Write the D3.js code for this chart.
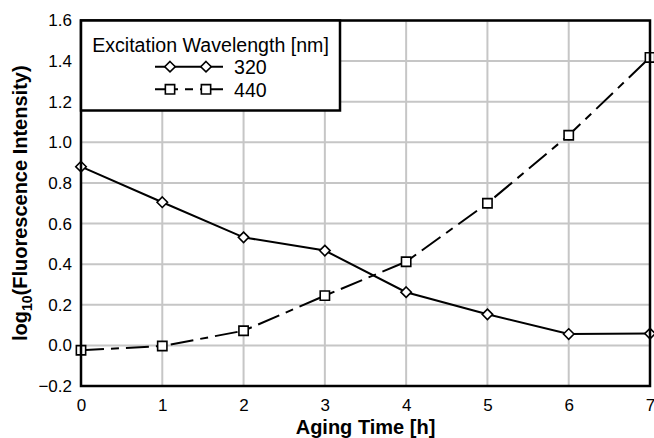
<!DOCTYPE html>
<html lang="en">
<head>
<meta charset="UTF-8">
<title>Fluorescence vs aging time</title>
<script src="https://d3js.org/d3.v7.min.js"></script>
<style>
  body { margin: 0; background: #fff; }
  svg text { font-family: "Liberation Sans", Arial, sans-serif; fill: #000; }
</style>
</head>
<body>
<svg id="chart" width="654" height="438"></svg>
<script>
// data
const hours = [0, 1, 2, 3, 4, 5, 6, 7];
const ex320 = [0.88, 0.705, 0.532, 0.467, 0.262, 0.153, 0.056, 0.058];
const ex440 = [-0.024, -0.003, 0.072, 0.245, 0.412, 0.70, 1.035, 1.418];
const yTicks = [-0.2, 0.0, 0.2, 0.4, 0.6, 0.8, 1.0, 1.2, 1.4, 1.6];
const seriesNames = ["320", "440"];

const svg = d3.select("#chart");
// plot box (window.top is taken, so use other names)
const pLeft = 81, pRight = 650, pTop = 20.5, pBottom = 386;

const x = d3.scaleLinear().domain([0, 7]).range([pLeft, pRight]);
const y = d3.scaleLinear().domain([-0.2, 1.6]).range([pBottom, pTop]);

// grid
const grid = svg.append("g");
grid.selectAll("line.v").data(hours).enter().append("line")
    .attr("x1", d => x(d)).attr("x2", d => x(d))
    .attr("y1", pTop).attr("y2", pBottom)
    .attr("stroke", "#c6c6c6").attr("stroke-width", 2);
grid.selectAll("line.h").data(yTicks).enter().append("line")
    .attr("x1", pLeft).attr("x2", pRight)
    .attr("y1", d => y(d)).attr("y2", d => y(d))
    .attr("stroke", "#c6c6c6").attr("stroke-width", 2);

// axes (tick labels only, the frame is drawn below)
const xAxis = svg.append("g").attr("transform", `translate(0,${pBottom})`)
    .call(d3.axisBottom(x).tickValues(hours).tickFormat(d3.format("d")).tickSize(0).tickPadding(13));
xAxis.select(".domain").remove();
xAxis.selectAll("text").style("font-size", "17px");

const yAxis = svg.append("g").attr("transform", `translate(${pLeft},0)`)
    .call(d3.axisLeft(y).tickValues(yTicks).tickFormat(d3.format(".1f")).tickSize(0).tickPadding(9));
yAxis.select(".domain").remove();
yAxis.selectAll("text").style("font-size", "17px");

const dash = "23,7,8,7";

// lines
const line = d3.line().x((d, i) => x(hours[i])).y(d => y(d));
svg.append("path").datum(ex320).attr("d", line)
    .attr("fill", "none").attr("stroke", "#000").attr("stroke-width", 2);
svg.append("path").datum(ex440).attr("d", line)
    .attr("fill", "none").attr("stroke", "#000").attr("stroke-width", 2)
    .attr("stroke-dasharray", dash);

// markers
const diamond = d3.symbol().type(d3.symbolDiamond2).size(70);
const square = d3.symbol().type(d3.symbolSquare2).size(110);

svg.append("g").selectAll("path").data(ex320).enter().append("path")
    .attr("d", diamond)
    .attr("transform", (d, i) => `translate(${x(hours[i])},${y(d)})`)
    .attr("fill", "#fff").attr("stroke", "#000").attr("stroke-width", 1.6);
svg.append("g").selectAll("path").data(ex440).enter().append("path")
    .attr("d", square)
    .attr("transform", (d, i) => `translate(${x(hours[i])},${y(d)})`)
    .attr("fill", "#fff").attr("stroke", "#000").attr("stroke-width", 1.6);

// frame goes over the markers
svg.append("rect").attr("x", pLeft).attr("y", pTop)
    .attr("width", pRight - pLeft).attr("height", pBottom - pTop)
    .attr("fill", "none").attr("stroke", "#000").attr("stroke-width", 2.5);

// legend
const lg = svg.append("g");
lg.append("rect").attr("x", pLeft).attr("y", pTop)
    .attr("width", 259).attr("height", 90)
    .attr("fill", "#fff").attr("stroke", "#000").attr("stroke-width", 2.5);
lg.append("text").attr("x", 210.5).attr("y", 52).attr("text-anchor", "middle")
    .style("font-size", "19.6px").text("Excitation Wavelength [nm]");

const rowsY = [66.7, 89.3];
const markers = [diamond, square];
seriesNames.forEach((name, k) => {
  const ry = rowsY[k];
  lg.append("line").attr("x1", 155).attr("x2", 223).attr("y1", ry).attr("y2", ry)
      .attr("stroke", "#000").attr("stroke-width", 2)
      .attr("stroke-dasharray", k === 1 ? dash : null);
  [170, 206].forEach(mx => {
    lg.append("path").attr("d", markers[k])
        .attr("transform", `translate(${mx},${ry})`)
        .attr("fill", "#fff").attr("stroke", "#000").attr("stroke-width", 1.6);
  });
  lg.append("text").attr("x", 234).attr("y", ry + 7.3)
      .style("font-size", "19.6px").text(name);
});

// axis titles
svg.append("text").attr("x", (pLeft + pRight) / 2).attr("y", 434)
    .attr("text-anchor", "middle").style("font-size", "20px").style("font-weight", "bold")
    .text("Aging Time [h]");

const yt = svg.append("text")
    .attr("transform", `translate(27,${(pTop + pBottom) / 2}) rotate(-90)`)
    .attr("text-anchor", "middle").style("font-size", "20px").style("font-weight", "bold");
yt.append("tspan").text("log");
yt.append("tspan").attr("dy", 5).style("font-size", "14px").text("10");
yt.append("tspan").attr("dy", -5).text("(Fluorescence Intensity)");
</script>
</body>
</html>
